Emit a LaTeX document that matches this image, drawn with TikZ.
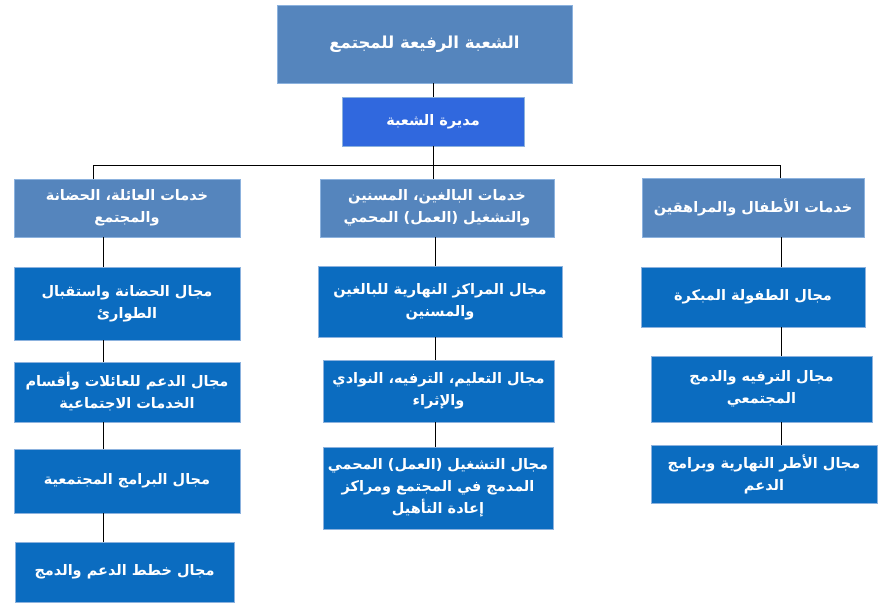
\documentclass[tikz,border=0pt]{standalone}
\usepackage{fontspec}
\newfontfamily\arabicfont[Script=Arabic]{DejaVu Sans}
\TeXXeTstate=1
\newcommand\ar[1]{\beginR #1\endR}
\definecolor{stahl}{HTML}{5585BD}
\definecolor{koenig}{HTML}{3068DE}
\definecolor{blau}{HTML}{0B6CC0}
\definecolor{rand}{HTML}{8CB2DE}
\tikzset{
  kasten/.style={draw=rand,line width=0.8pt,text=white,align=center,inner sep=2pt,
    font=\arabicfont\bfseries\fontsize{14.5}{22}\selectfont},
  abt/.style={kasten,fill=stahl},
  feld/.style={kasten,fill=blau},
  linie/.style={black,line width=0.8pt},
}
\begin{document}
\begin{tikzpicture}[x=1pt,y=-1pt]
  \useasboundingbox (0,0) rectangle (882,610);
  % Leitung
  \node[abt,minimum width=295pt,minimum height=78pt,font=\arabicfont\bfseries\fontsize{16.5}{22}\selectfont] (top) at (424.5,44) {\ar{الشعبة الرفيعة للمجتمع}};
  \node[kasten,fill=koenig,minimum width=182pt,minimum height=49pt] (dir) at (433,121.5) {\ar{مديرة الشعبة}};
  % Abteilungen
  \node[abt,minimum width=226pt,minimum height=58pt] (l2a) at (127,208) {\ar{خدمات العائلة، الحضانة}\\\ar{والمجتمع}};
  \node[abt,minimum width=234pt,minimum height=58pt] (l2b) at (437,208) {\ar{خدمات البالغين، المسنين}\\\ar{والتشغيل (العمل) المحمي}};
  \node[abt,minimum width=222pt,minimum height=59pt] (l2c) at (753,207.5) {\ar{خدمات الأطفال والمراهقين}};
  % Felder links
  \node[feld,minimum width=226pt,minimum height=73pt] (a1) at (127,303.5) {\ar{مجال الحضانة واستقبال}\\\ar{الطوارئ}};
  \node[feld,minimum width=226pt,minimum height=60pt] (a2) at (127,392) {\ar{مجال الدعم للعائلات وأقسام}\\\ar{الخدمات الاجتماعية}};
  \node[feld,minimum width=226pt,minimum height=64pt] (a3) at (127,481) {\ar{مجال البرامج المجتمعية}};
  \node[feld,minimum width=219pt,minimum height=60pt] (a4) at (124.5,572) {\ar{مجال خطط الدعم والدمج}};
  % Felder Mitte
  \node[feld,minimum width=244pt,minimum height=71pt] (b1) at (440,301.5) {\ar{مجال المراكز النهارية للبالغين}\\\ar{والمسنين}};
  \node[feld,minimum width=231pt,minimum height=62pt] (b2) at (438.5,391) {\ar{مجال التعليم، الترفيه، النوادي}\\\ar{والإثراء}};
  \node[feld,minimum width=230pt,minimum height=82pt] (b3) at (438,488) {\ar{مجال التشغيل (العمل) المحمي}\\\ar{المدمج في المجتمع ومراكز}\\\ar{إعادة التأهيل}};
  % Felder rechts
  \node[feld,minimum width=224pt,minimum height=60pt] (c1) at (753,297) {\ar{مجال الطفولة المبكرة}};
  \node[feld,minimum width=221pt,minimum height=66pt] (c2) at (761.5,389) {\ar{مجال الترفيه والدمج}\\\ar{المجتمعي}};
  \node[feld,minimum width=226pt,minimum height=58pt] (c3) at (764,474) {\ar{مجال الأطر النهارية وبرامج}\\\ar{الدعم}};
  % Verbindungen
  \coordinate (bus) at (433,165);
  \coordinate (busl) at (93,165);
  \coordinate (busr) at (780,165);
  \coordinate (sa) at (103,0);
  \coordinate (sb) at (435,0);
  \coordinate (sc) at (781,0);
  \draw[linie] (top.south -| dir.north) -- (dir.north);
  \draw[linie] (dir.south) -- (bus);
  \draw[linie] (busl) -- (busr);
  \draw[linie] (busl) -- (busl |- l2a.north);
  \draw[linie] (bus) -- (bus |- l2b.north);
  \draw[linie] (busr) -- (busr |- l2c.north);
  \draw[linie] (l2a.south -| sa) -- (a1.north -| sa);
  \draw[linie] (a1.south -| sa) -- (a2.north -| sa);
  \draw[linie] (a2.south -| sa) -- (a3.north -| sa);
  \draw[linie] (a3.south -| sa) -- (a4.north -| sa);
  \draw[linie] (l2b.south -| sb) -- (b1.north -| sb);
  \draw[linie] (b1.south -| sb) -- (b2.north -| sb);
  \draw[linie] (b2.south -| sb) -- (b3.north -| sb);
  \draw[linie] (l2c.south -| sc) -- (c1.north -| sc);
  \draw[linie] (c1.south -| sc) -- (c2.north -| sc);
  \draw[linie] (c2.south -| sc) -- (c3.north -| sc);
\end{tikzpicture}
\end{document}
